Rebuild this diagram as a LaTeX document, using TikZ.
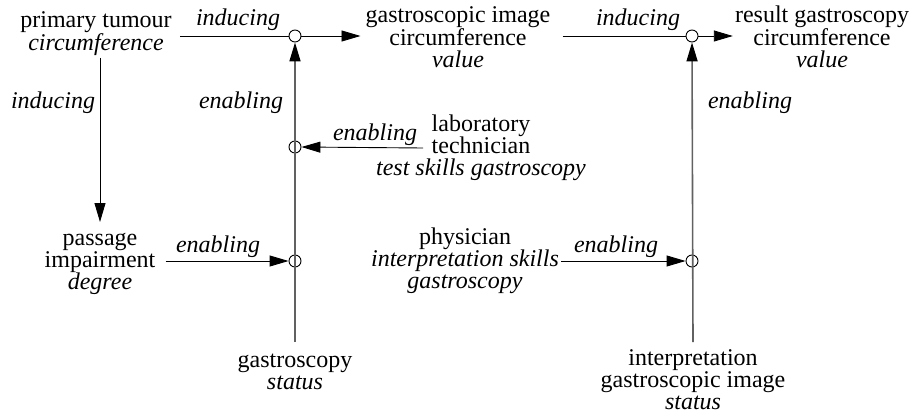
\documentclass[tikz,border=0pt]{standalone}
\usepackage{fontspec}
\setmainfont{Liberation Serif}
\usetikzlibrary{arrows.meta}
\begin{document}
\begin{tikzpicture}[x=1pt,y=-1pt,
  txt/.style={font=\fontsize{24}{22}\selectfont, align=center, inner xsep=2pt, inner ysep=0pt},
  lbl/.style={font=\fontsize{24}{22}\selectfont\itshape, inner sep=0pt},
  jn/.style={circle, draw=black, line width=0.9pt, minimum size=12pt, inner sep=0pt},
  tip/.style={-{Triangle[length=19pt,width=11pt,color=black]}},
  hline/.style={draw=black, line width=0.9pt},
  vline/.style={draw=black!62, line width=1.6pt}]
\useasboundingbox (0,0) rectangle (915,417);
% nodes
\node[txt] (pt) at (96,33.5) {primary tumour\\\textit{circumference}};
\node[txt] (gi) at (458,37) {gastroscopic image\\circumference\\\textit{value}};
\node[txt] (rg) at (822,37) {result gastroscopy\\circumference\\\textit{value}};
\node[txt] (lt) at (481,148) {laboratory\\technician\\\textit{test skills gastroscopy}};
\node[txt] (pa) at (100,264) {passage\\impairment\\\textit{degree}};
\node[txt] (ph) at (465,261) {physician\\\textit{interpretation skills}\\\textit{gastroscopy}};
\node[txt] (gs) at (295,372) {gastroscopy\\\textit{status}};
\node[txt] (ig) at (693,380) {interpretation\\gastroscopic image\\\textit{status}};
% junctions
\node[jn] (c1) at (295,36) {};
\node[jn] (c2) at (295,147) {};
\node[jn] (c3) at (295,261) {};
\node[jn] (c4) at (692,36) {};
\node[jn] (c5) at (692,261) {};
% vertical enabling lines
\draw[vline,tip] ([yshift=30pt]gs.center) -- (c1.south);
\draw[vline,tip] ([yshift=38pt]ig.center) -- (c4.south);
% horizontal inducing lines
\draw[hline] ([xshift=6pt]pt.east |- c1.center) -- (c1.west);
\draw[hline,tip] (c1.east) -- ([xshift=-3pt]gi.west |- c1.center);
\draw[hline] ([xshift=10pt]gi.east |- c4.center) -- (c4.west);
\draw[hline,tip] (c4.east) -- (rg.west |- c4.center);
% left inducing
\draw[hline,tip] ([yshift=-24.5pt]pt.center -| pa.center) -- ([yshift=42pt]pa.center);
% enabling arrows into junctions
\draw[hline,tip] ([xshift=-58pt]lt.center) -- (c2.east);
\draw[hline,tip] ([xshift=8pt]pa.east |- c3.center) -- (c3.west);
\draw[hline,tip] (ph.east |- c5.center) -- (c5.west);
% labels
\node[lbl] (l1) at (238,20) {inducing};
\node[lbl] (l2) at (638,20) {inducing};
\node[lbl] (l3) at (53,103) {inducing};
\node[lbl] (l4) at (241,103) {enabling};
\node[lbl] (l5) at (750,103) {enabling};
\node[lbl] (l6) at (375,135) {enabling};
\node[lbl] (l7) at (218,247) {enabling};
\node[lbl] (l8) at (616,247) {enabling};
\end{tikzpicture}
\end{document}
